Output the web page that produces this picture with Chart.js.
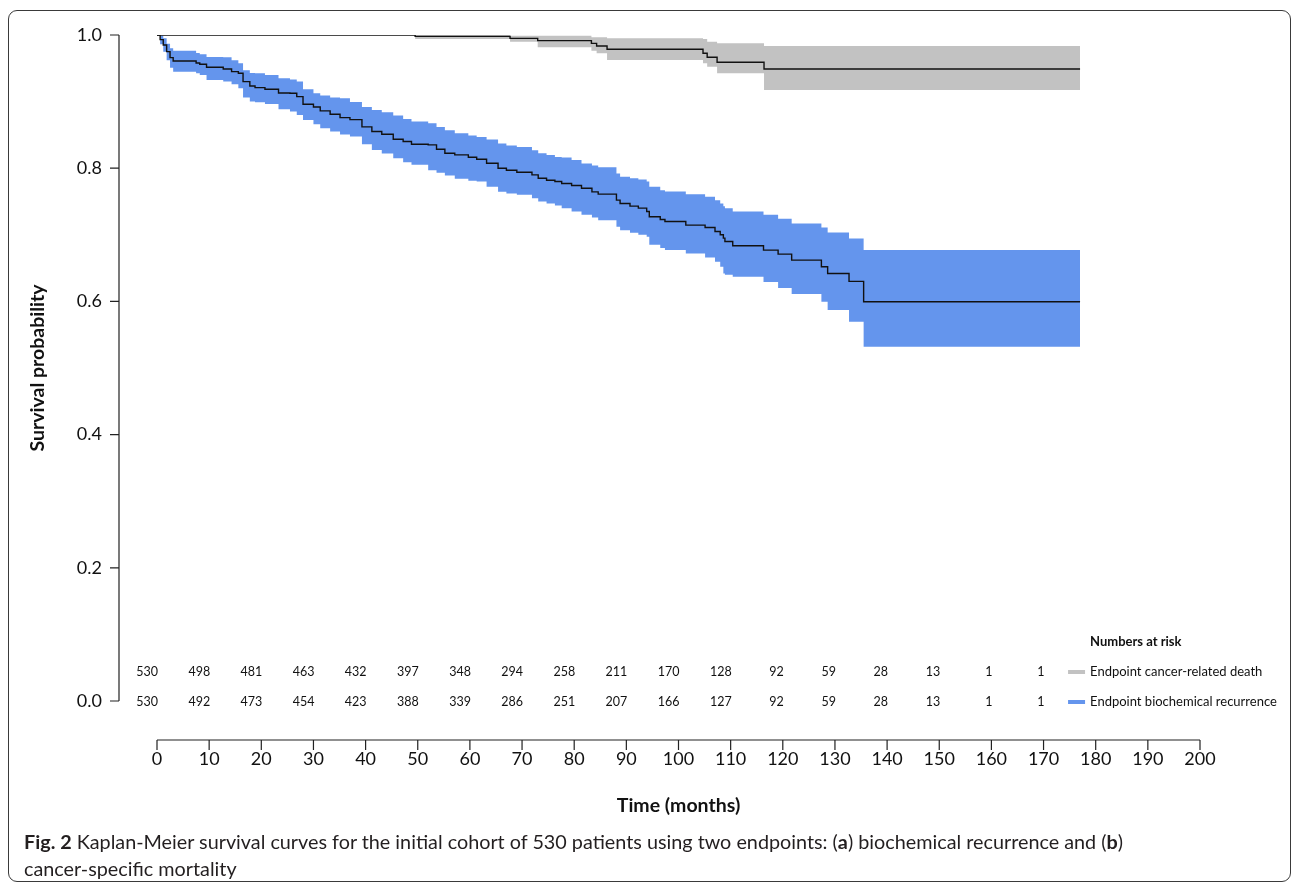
<!DOCTYPE html>
<html>
<head>
<meta charset="utf-8">
<title>Kaplan-Meier survival curves</title>
<script src="https://cdn.jsdelivr.net/npm/chart.js@4.4.0/dist/chart.umd.min.js"></script>
<style>
  html, body { margin: 0; padding: 0; background: #fff; }
  #wrap { position: relative; width: 1296px; height: 887px; overflow: hidden; }
  #frame { position: absolute; left: 8px; top: 10px; width: 1283px; height: 872px; border: 1px solid #3a3a3a; border-radius: 9px; box-sizing: border-box; }
  #kmChart { position: absolute; left: 0; top: 0; }
  #caption { position: absolute; left: 24px; top: 828px; width: 1260px; font-family: Lato, "Open Sans", sans-serif; font-size: 19.8px; line-height: 27px; color: #231f20; white-space: nowrap; }
</style>
</head>
<body>
<div id="wrap">
  <div id="frame"></div>
  <canvas id="kmChart" width="1296" height="887"></canvas>
  <div id="caption"><b>Fig. 2</b> Kaplan-Meier survival curves for the initial cohort of 530 patients using two endpoints: (<b>a</b>) biochemical recurrence and (<b>b</b>)<br>cancer-specific mortality</div>
</div>
<script>
// 위험 대상자 수 (Numbers at risk)
const riskTimes = [0, 10, 20, 30, 40, 50, 60, 70, 80, 90, 100, 110, 120, 130, 140, 150, 160, 170];
const riskDeath = [530, 498, 481, 463, 432, 397, 348, 294, 258, 211, 170, 128, 92, 59, 28, 13, 1, 1];
const riskBcr = [530, 492, 473, 454, 423, 388, 339, 286, 251, 207, 166, 127, 92, 59, 28, 13, 1, 1];

// Endpoint biochemical recurrence (계단 시작 시점, 생존확률, 신뢰구간 상/하한)
const bcrTime = [0, 0.6, 1.2, 1.85, 2.5, 3.1, 7.5, 8.2, 9.5, 12.7, 14.3, 15.6, 16.5, 17.8, 18.8, 20.7, 23.3, 25.5, 26.8, 28.0,
  30.0, 31.3, 33.2, 35.1, 37.0, 39.3, 41.2, 43.1, 45.3, 47.2, 48.8, 52.0, 53.6, 55.2, 57.1, 59.7, 61.3, 63.2, 65.4, 67.0,
  69.0, 71.9, 73.1, 74.7, 76.3, 77.6, 79.5, 81.4, 83.4, 84.6, 88.1, 88.8, 90.7, 92.3, 93.9, 94.4, 96.5, 97.4, 101.4, 105.1,
  107.0, 108.0, 108.6, 108.9, 110.4, 116.3, 119.1, 121.7, 127.4, 128.6, 132.7, 135.5, 177];
const bcrSurv = [1.0, 0.993, 0.985, 0.975, 0.966, 0.961, 0.958, 0.956, 0.9515, 0.949, 0.945, 0.9425, 0.930, 0.9235, 0.921, 0.9185, 0.913, 0.9125, 0.9075, 0.896,
  0.892, 0.886, 0.881, 0.876, 0.873, 0.862, 0.855, 0.851, 0.8435, 0.840, 0.836, 0.835, 0.8285, 0.8225, 0.820, 0.8165, 0.8135, 0.8075, 0.800, 0.797,
  0.794, 0.790, 0.785, 0.782, 0.780, 0.777, 0.774, 0.770, 0.7645, 0.761, 0.752, 0.747, 0.743, 0.740, 0.735, 0.727, 0.723, 0.720, 0.7145, 0.711,
  0.705, 0.700, 0.695, 0.690, 0.6835, 0.677, 0.671, 0.662, 0.652, 0.642, 0.630, 0.5995, 0.5995];
const bcrUpper = [1.0, 0.999, 0.995, 0.987, 0.980, 0.9765, 0.973, 0.971, 0.967, 0.9665, 0.962, 0.9575, 0.947, 0.943, 0.9425, 0.940, 0.935, 0.933, 0.930, 0.9185,
  0.9125, 0.909, 0.906, 0.905, 0.8995, 0.892, 0.8875, 0.884, 0.879, 0.874, 0.870, 0.8675, 0.862, 0.857, 0.8525, 0.849, 0.847, 0.843, 0.837, 0.834,
  0.832, 0.827, 0.8225, 0.820, 0.817, 0.816, 0.8125, 0.807, 0.804, 0.8015, 0.792, 0.787, 0.785, 0.783, 0.780, 0.772, 0.767, 0.765, 0.761, 0.757,
  0.752, 0.747, 0.743, 0.740, 0.735, 0.730, 0.724, 0.717, 0.711, 0.7035, 0.6945, 0.677, 0.677];
const bcrLower = [1.0, 0.986, 0.975, 0.962, 0.951, 0.945, 0.9425, 0.940, 0.9325, 0.930, 0.926, 0.920, 0.906, 0.900, 0.899, 0.8965, 0.8885, 0.885, 0.880, 0.8725,
  0.866, 0.860, 0.855, 0.8505, 0.8475, 0.836, 0.8275, 0.822, 0.815, 0.809, 0.805, 0.797, 0.793, 0.789, 0.784, 0.781, 0.780, 0.772, 0.7645, 0.762,
  0.760, 0.755, 0.750, 0.747, 0.744, 0.740, 0.735, 0.730, 0.726, 0.722, 0.712, 0.707, 0.703, 0.700, 0.697, 0.685, 0.680, 0.677, 0.672, 0.666,
  0.6595, 0.652, 0.642, 0.640, 0.637, 0.629, 0.620, 0.611, 0.5995, 0.587, 0.5695, 0.532, 0.532];

// Endpoint cancer-related death
const csmTime = [0, 49.5, 67.7, 73.0, 83.3, 84.3, 86.3, 104.7, 105.5, 107.4, 116.4, 177];
const csmSurv = [1.0, 0.998, 0.995, 0.9915, 0.9875, 0.9835, 0.9785, 0.9725, 0.9665, 0.959, 0.949, 0.949];
const csmUpper = [1.0, 1.0, 0.999, 0.999, 0.9965, 0.9965, 0.995, 0.994, 0.990, 0.9875, 0.9835, 0.9835];
const csmLower = [1.0, 0.994, 0.990, 0.9815, 0.9765, 0.9725, 0.9625, 0.9575, 0.9525, 0.9425, 0.9175, 0.9175];

const BLUE = 'rgb(100, 149, 237)';
const GREY = 'rgb(194, 194, 194)';
const FONT = 'Lato, "Open Sans", sans-serif';

function toPoints(times, values) {
    return times.map((t, i) => ({ x: t, y: values[i] }));
}

function lineSet(times, values) {
    return {
        data: toPoints(times, values),
        stepped: 'before',
        borderColor: '#111',
        borderWidth: 1.4,
        pointRadius: 0,
        fill: false
    };
}

function bandSet(times, values, color, fill) {
    return {
        data: toPoints(times, values),
        stepped: 'before',
        borderWidth: 0,
        borderColor: 'rgba(0,0,0,0)',
        backgroundColor: color,
        pointRadius: 0,
        fill: fill
    };
}

// 축선, 눈금, 위험 대상자 표를 그리는 플러그인
const riskTablePlugin = {
    id: 'riskTable',
    afterDraw(chart) {
        const { ctx, chartArea } = chart;
        const xs = chart.scales.x;
        const ys = chart.scales.y;
        ctx.save();
        ctx.strokeStyle = '#222';
        ctx.lineWidth = 1.2;

        // y축 (그래프 영역 왼쪽으로 떨어뜨림)
        const axX = chartArea.left - 38;
        ctx.beginPath();
        ctx.moveTo(axX, ys.getPixelForValue(0));
        ctx.lineTo(axX, ys.getPixelForValue(1));
        ys.ticks.forEach(tk => {
            const py = ys.getPixelForValue(tk.value);
            ctx.moveTo(axX - 9, py);
            ctx.lineTo(axX, py);
        });
        ctx.stroke();

        // x축 (그래프 영역 아래로 떨어뜨림)
        const axY = chartArea.bottom + 39;
        ctx.beginPath();
        ctx.moveTo(xs.getPixelForValue(xs.min), axY);
        ctx.lineTo(xs.getPixelForValue(xs.max), axY);
        xs.ticks.forEach(tk => {
            const px = xs.getPixelForValue(tk.value);
            ctx.moveTo(px, axY);
            ctx.lineTo(px, axY + 10);
        });
        ctx.stroke();

        // Numbers at risk
        const row1 = chartArea.bottom - 29;
        const row2 = chartArea.bottom + 1;
        ctx.fillStyle = '#111';
        ctx.font = '12.5px ' + FONT;
        ctx.textAlign = 'right';
        ctx.textBaseline = 'middle';
        riskTimes.forEach((t, i) => {
            const px = xs.getPixelForValue(t) + 1;
            ctx.fillText(String(riskDeath[i]), px, row1);
            ctx.fillText(String(riskBcr[i]), px, row2);
        });

        // 범례
        const legX = xs.getPixelForValue(174.7);
        ctx.textAlign = 'left';
        ctx.font = 'bold 13px ' + FONT;
        ctx.fillText('Numbers at risk', legX + 22, row1 - 30);
        ctx.font = '13px ' + FONT;
        ctx.lineWidth = 4;
        ctx.strokeStyle = GREY;
        ctx.beginPath();
        ctx.moveTo(legX, row1);
        ctx.lineTo(legX + 17, row1);
        ctx.stroke();
        ctx.strokeStyle = BLUE;
        ctx.beginPath();
        ctx.moveTo(legX, row2);
        ctx.lineTo(legX + 17, row2);
        ctx.stroke();
        ctx.fillText('Endpoint cancer-related death', legX + 22, row1);
        ctx.fillText('Endpoint biochemical recurrence', legX + 22, row2);
        ctx.restore();
    }
};

const ctx = document.getElementById('kmChart').getContext('2d');
new Chart(ctx, {
    type: 'line',
    data: {
        datasets: [
            lineSet(bcrTime, bcrSurv),
            lineSet(csmTime, csmSurv),
            bandSet(bcrTime, bcrUpper, BLUE, '+1'),
            bandSet(bcrTime, bcrLower, BLUE, false),
            bandSet(csmTime, csmUpper, GREY, '+1'),
            bandSet(csmTime, csmLower, GREY, false)
        ]
    },
    options: {
        responsive: false,
        animation: false,
        layout: { padding: { left: 0, top: 35, right: 96, bottom: 67 } },
        plugins: {
            legend: { display: false },
            tooltip: { enabled: false }
        },
        scales: {
            x: {
                type: 'linear',
                min: 0,
                max: 200,
                // 눈금 표시는 플러그인이 그림; tickLength는 라벨 간격용
                grid: { display: false, drawTicks: true, tickLength: 47 },
                border: { display: false },
                ticks: { stepSize: 10, padding: 0, color: '#111', font: { family: FONT, size: 18 }, maxRotation: 0 },
                title: { display: true, text: 'Time (months)', color: '#111', font: { family: FONT, size: 19.5, weight: 'bold' }, padding: { top: 0, bottom: 3 } },
                afterFit(scale) { scale.height = 119; }
            },
            y: {
                min: 0,
                max: 1,
                grid: { display: false, drawTicks: true, tickLength: 55 },
                border: { display: false },
                ticks: { stepSize: 0.2, padding: 0, color: '#111', font: { family: FONT, size: 18 }, callback: v => v.toFixed(1) },
                title: { display: true, text: 'Survival probability', color: '#111', font: { family: FONT, size: 19.5, weight: 'bold' }, padding: { top: 26, bottom: 0 } },
                afterFit(scale) { scale.width = 157; }
            }
        }
    },
    plugins: [riskTablePlugin]
});
</script>
</body>
</html>
